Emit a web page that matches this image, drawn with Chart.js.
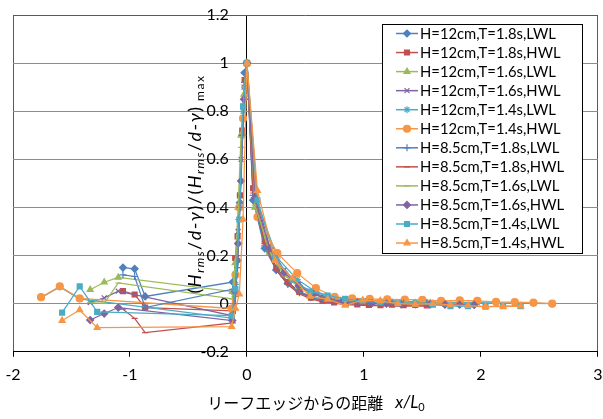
<!DOCTYPE html>
<html>
<head>
<meta charset="utf-8">
<script src="https://cdn.jsdelivr.net/npm/chart.js@4/dist/chart.umd.min.js"></script>
<style>
  html, body { margin: 0; padding: 0; background: #fff; }
  #wrap { width: 603px; height: 419px; }
</style>
</head>
<body>
<div id="wrap"><canvas id="chart" width="603" height="419"></canvas></div>
<script>
// gauge positions x/L0 (offshore, reef edge, reef flat), one list per wave period
const xT18 = [-1.06, -0.96, -0.87, -0.12, -0.10, -0.08, -0.06, -0.04, -0.02, 0,
  0.053, 0.152, 0.251, 0.350, 0.449, 0.548, 0.647, 0.746, 0.845, 0.944, 1.043, 1.142, 1.241, 1.340, 1.439, 1.538];
const xT16 = [-1.34, -1.22, -1.10, -0.125, -0.10, -0.075, -0.05, -0.025, 0,
  0.068, 0.193, 0.318, 0.443, 0.568, 0.693, 0.818, 0.943, 1.068, 1.193, 1.318, 1.443, 1.568, 1.693, 1.818, 1.943];
const xT14a = [-1.76, -1.60, -1.43, -0.131, -0.098, -0.065, -0.033, 0,
  0.09, 0.26, 0.43, 0.59, 0.75, 0.90, 1.05, 1.20, 1.35, 1.50, 1.66, 1.82, 1.97, 2.13, 2.29, 2.45, 2.61];
const xT14b = [-1.58, -1.43, -1.28, -0.131, -0.098, -0.065, -0.033, 0,
  0.09, 0.24, 0.39, 0.54, 0.69, 0.84, 0.99, 1.14, 1.29, 1.44, 1.59, 1.74, 1.89, 2.04, 2.19, 2.34];

// normalised wave height (Hrms/d-γ)/(Hrms/d-γ)max
const yH12T18L = [0.150, 0.145, 0.030, 0.090, 0.040, 0.180, 0.420, 0.700, 0.960, 1.000,
  0.430, 0.230, 0.140, 0.085, 0.050, 0.030, 0.020, 0.012, 0.008, 0.006, 0.005, 0.004, 0.004, 0.003, 0.002, 0.002];
const yH12T18H = [0.052, 0.038, -0.016, -0.030, 0.190, 0.280, 0.450, 0.720, 0.930, 1.000,
  0.480, 0.260, 0.150, 0.090, 0.050, 0.025, 0.012, 0.005, 0.002, -0.003, -0.005, -0.006, -0.004, -0.006, -0.005, -0.007];
const yH12T16L = [0.058, 0.089, 0.109, 0.050, 0.170, 0.400, 0.700, 0.870, 1.000,
  0.400, 0.210, 0.120, 0.070, 0.040, 0.022, 0.013, 0.008, 0.005, 0.004, 0.003, 0.002, 0.002, 0.001, 0.001, 0.000];
const yH12T16H = [0.005, 0.024, 0.052, -0.050, 0.060, 0.300, 0.600, 0.900, 1.000,
  0.460, 0.240, 0.140, 0.080, 0.045, 0.025, 0.012, 0.006, 0.004, 0.002, 0.002, 0.001, 0.000, -0.001, -0.001, -0.002];
const yH12T14L = [0.025, 0.070, 0.020, -0.060, 0.080, 0.400, 0.800, 1.000,
  0.420, 0.190, 0.100, 0.050, 0.025, 0.020, 0.015, 0.012, 0.010, 0.008, 0.006, 0.005, 0.004, 0.003, 0.002, 0.001, 0.000];
const yH12T14H = [0.027, 0.072, 0.022, -0.020, 0.120, 0.400, 0.770, 1.000,
  0.360, 0.210, 0.127, 0.065, 0.028, 0.022, 0.020, 0.018, 0.017, 0.016, 0.012, 0.014, 0.012, 0.008, 0.007, 0.004, 0.000];
const yH85T18L = [0.120, 0.113, -0.016, 0.060, 0.030, 0.150, 0.400, 0.700, 0.920, 1.000,
  0.450, 0.240, 0.140, 0.080, 0.045, 0.025, 0.015, 0.010, 0.008, 0.006, 0.005, 0.004, 0.003, 0.003, 0.002, 0.002];
const yH85T18H = [-0.023, -0.061, -0.120, -0.080, 0.000, 0.200, 0.450, 0.700, 0.900, 1.000,
  0.460, 0.250, 0.140, 0.080, 0.040, 0.020, 0.008, 0.002, -0.004, -0.006, -0.008, -0.008, -0.010, -0.009, -0.010, -0.010];
const yH85T16L = [0.004, 0.001, 0.086, 0.020, 0.130, 0.350, 0.650, 0.900, 1.000,
  0.410, 0.220, 0.120, 0.070, 0.040, 0.020, 0.012, 0.007, 0.005, 0.004, 0.003, 0.002, 0.001, 0.000, -0.001, -0.001];
const yH85T16H = [-0.068, -0.041, -0.016, -0.070, 0.050, 0.250, 0.510, 0.850, 1.000,
  0.440, 0.230, 0.130, 0.075, 0.040, 0.020, 0.010, 0.005, 0.002, 0.000, -0.002, -0.003, -0.003, -0.004, -0.004, -0.005];
const yH85T14L = [-0.037, 0.072, -0.034, -0.050, 0.060, 0.350, 0.820, 1.000,
  0.430, 0.190, 0.100, 0.050, 0.034, 0.020, 0.010, 0.005, 0.002, 0.000, -0.004, -0.010, -0.010, -0.012, -0.010, -0.010];
const yH85T14H = [-0.070, -0.026, -0.100, -0.095, -0.020, 0.040, 0.350, 1.000,
  0.470, 0.180, 0.106, 0.030, 0.018, -0.007, 0.015, 0.012, 0.000, -0.003, 0.000, -0.005, -0.008, -0.012, -0.012, -0.010];

const seriesLabels = [
  'H=12cm,T=1.8s,LWL', 'H=12cm,T=1.8s,HWL', 'H=12cm,T=1.6s,LWL', 'H=12cm,T=1.6s,HWL',
  'H=12cm,T=1.4s,LWL', 'H=12cm,T=1.4s,HWL', 'H=8.5cm,T=1.8s,LWL', 'H=8.5cm,T=1.8s,HWL',
  'H=8.5cm,T=1.6s,LWL', 'H=8.5cm,T=1.6s,HWL', 'H=8.5cm,T=1.4s,LWL', 'H=8.5cm,T=1.4s,HWL'
];
const seriesX = [xT18, xT18, xT16, xT16, xT14a, xT14a, xT18, xT18, xT16, xT16, xT14b, xT14b];
const seriesY = [yH12T18L, yH12T18H, yH12T16L, yH12T16H, yH12T14L, yH12T14H,
  yH85T18L, yH85T18H, yH85T16L, yH85T16H, yH85T14L, yH85T14H];
const seriesColors = ['#4F81BD', '#C0504D', '#9BBB59', '#8064A2', '#4BACC6', '#F79646',
  '#4F81BD', '#C0504D', '#9BBB59', '#8064A2', '#4BACC6', '#F79646'];
const seriesMarkers = ['rectRot', 'rect', 'triangle', 'crossRot', 'star', 'circle',
  'cross', 'line', 'line', 'rectRot', 'rect', 'triangle'];

const xMin = -2, xMax = 3, yMin = -0.2, yMax = 1.2;

const tickFont = { family: 'Lato, "DejaVu Sans", sans-serif', size: 16 };

const datasets = seriesLabels.map((label, i) => ({
  label: label,
  data: seriesX[i].map((x, k) => ({ x: x, y: seriesY[i][k] })),
  showLine: true,
  borderColor: seriesColors[i],
  backgroundColor: seriesColors[i],
  borderWidth: 1.25,
  pointStyle: seriesMarkers[i],
  pointRadius: seriesMarkers[i] === 'line' ? 3 : 3.5,
  pointBorderWidth: 1.2,
  pointBorderColor: seriesColors[i],
  pointBackgroundColor: seriesColors[i],
  tension: 0,
  order: seriesLabels.length - 1 - i   // later series drawn on top, as in the original
}));

// draw a text made of plain / italic / subscript pieces, centred on (0,0)
function drawRuns(ctx, runs, size) {
  const fontOf = r => (r.italic ? 'italic ' : '') + (r.sub ? Math.round(size * 0.68) : (r.size || size)) + 'px ' +
    (r.family || 'Lato, "DejaVu Sans", sans-serif');
  let total = 0;
  runs.forEach(r => { ctx.font = fontOf(r); total += ctx.measureText(r.t).width; });
  let cx = -total / 2;
  ctx.textAlign = 'left';
  ctx.textBaseline = 'middle';
  runs.forEach(r => {
    ctx.font = fontOf(r);
    ctx.fillText(r.t, cx, r.sub ? size * 0.3 : 0);
    cx += ctx.measureText(r.t).width;
  });
}

const titlesAndLegend = {
  id: 'titlesAndLegend',
  afterDraw(chart) {
    const ctx = chart.ctx;
    ctx.save();
    ctx.fillStyle = '#000';

    // y axis title, rotated
    ctx.save();
    ctx.translate(195, 184);
    ctx.rotate(-Math.PI / 2);
    ctx.letterSpacing = '1.5px';
    drawRuns(ctx, [
      { t: '(' }, { t: 'H', italic: true }, { t: 'rms', italic: true, sub: true },
      { t: '/' }, { t: 'd', italic: true }, { t: '-' }, { t: 'γ', italic: true }, { t: ')/(' },
      { t: 'H', italic: true }, { t: 'rms', italic: true, sub: true },
      { t: '/' }, { t: 'd', italic: true }, { t: '-' }, { t: 'γ', italic: true }, { t: ')' },
      { t: ' max', sub: true }
    ], 18);
    ctx.letterSpacing = '0px';
    ctx.restore();

    // x axis title
    ctx.save();
    ctx.translate(316, 403);
    drawRuns(ctx, [
      { t: 'リーフエッジからの距離', family: '"Noto Sans CJK JP", sans-serif' },
      { t: '   x/L', italic: true, size: 17 }, { t: '0', sub: true }
    ], 16);
    ctx.restore();

    // legend box
    const bx = 382, by = 24, bw = 200, bh = 229, rowH = 19.05;
    ctx.fillStyle = '#fff';
    ctx.fillRect(bx, by, bw, bh);
    ctx.strokeStyle = '#000';
    ctx.lineWidth = 1;
    ctx.strokeRect(bx + 0.5, by + 0.5, bw, bh);
    seriesLabels.forEach((label, i) => {
      const y = by + 9.5 + i * rowH;
      ctx.strokeStyle = seriesColors[i];
      ctx.fillStyle = seriesColors[i];
      ctx.lineWidth = 1.5;
      ctx.beginPath();
      ctx.moveTo(396, y);
      ctx.lineTo(418, y);
      ctx.stroke();
      ctx.lineWidth = 1.2;
      if (Chart.helpers && Chart.helpers.drawPoint) {
        Chart.helpers.drawPoint(ctx, {
          pointStyle: seriesMarkers[i],
          radius: seriesMarkers[i] === 'line' ? 3 : 3.5,
          rotation: 0,
          borderWidth: 1.2
        }, 407, y);
      }
      ctx.fillStyle = '#000';
      ctx.font = '14.8px Lato, "DejaVu Sans", sans-serif';
      ctx.textAlign = 'left';
      ctx.textBaseline = 'middle';
      ctx.fillText(label, 420, y + 0.5);
    });
    ctx.restore();
  }
};

const chart = new Chart(document.getElementById('chart'), {
  type: 'scatter',
  data: { datasets: datasets },
  options: {
    responsive: false,
    animation: false,
    devicePixelRatio: 1,
    layout: { padding: { left: 13, right: -1, top: 15, bottom: 27 } },
    plugins: {
      legend: { display: false },
      tooltip: { enabled: false },
      title: { display: false }
    },
    scales: {
      x: {
        type: 'linear',
        position: 'bottom',
        min: xMin,
        max: xMax,
        ticks: { stepSize: 1, color: '#000', font: tickFont, padding: 8, maxRotation: 0 },
        grid: {
          drawOnChartArea: true,
          drawTicks: true,
          tickLength: 5,
          tickColor: '#000',
          lineWidth: 1,
          color: c => {
            const v = c.tick ? c.tick.value : null;
            if (v === 0) return '#000';
            if (v === xMin || v === xMax) return '#595959';
            return 'rgba(0,0,0,0)';
          }
        },
        border: { display: true, color: '#000', width: 1 },
        afterFit: s => { s.paddingLeft = 0; s.paddingRight = 0; }
      },
      y: {
        type: 'linear',
        position: { x: -0.155 },
        min: yMin,
        max: yMax,
        ticks: {
          stepSize: 0.2,
          color: '#000',
          font: tickFont,
          callback: v => String(Number(v.toFixed(1)))
        },
        grid: {
          drawTicks: false,
          lineWidth: 1,
          color: c => (c.tick && Math.abs(c.tick.value - yMax) < 1e-9) ? '#595959' : '#8c8c8c'
        },
        border: { display: false },
        afterFit: s => { s.paddingTop = 0; s.paddingBottom = 0; s.paddingLeft = 0; s.paddingRight = 0; }
      }
    }
  },
  plugins: [titlesAndLegend]
});
</script>
</body>
</html>
